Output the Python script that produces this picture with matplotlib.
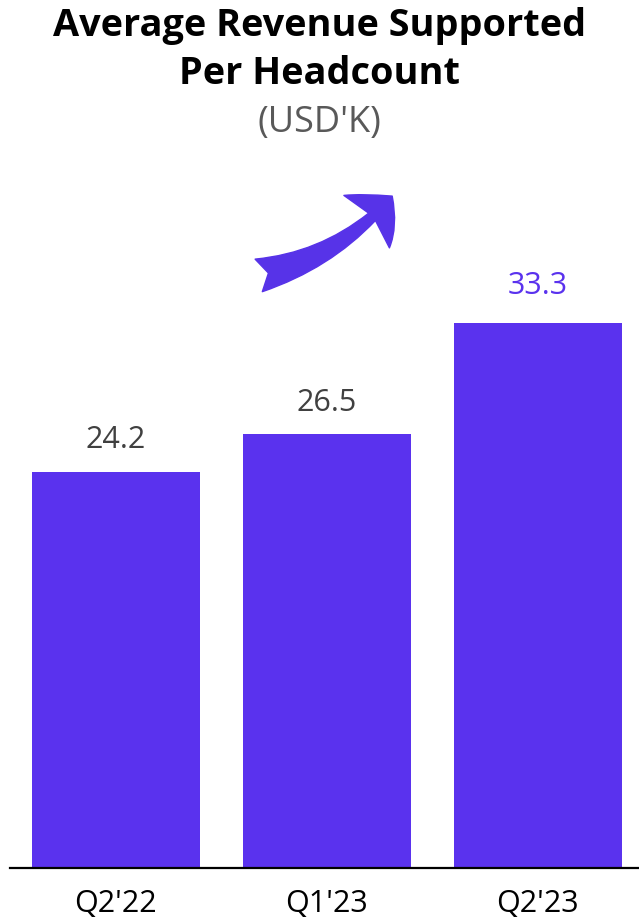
import matplotlib.pyplot as plt
from matplotlib.patches import FancyArrowPatch

quarters = ["Q2'22", "Q1'23", "Q2'23"]
revenue = [24.2, 26.5, 33.3]
label_colors = ['#404040', '#404040', '#5A32EE']

bar_color = '#5A32EE'

plt.rcParams['font.family'] = ['Open Sans', 'DejaVu Sans']

fig = plt.figure(figsize=(6.39, 9.22), dpi=100)
ax = fig.add_axes([10/639, 54/922, 629/639, (868-150)/922])

x = range(len(quarters))
ax.bar(x, revenue, width=0.8, color=bar_color)
ax.set_xlim(-0.502, 2.479)
ax.set_ylim(0, (868-150)/16.36)

for i, v in enumerate(revenue):
    ax.annotate(f'{v:.1f}', (i, v), xytext=(0, 12 if i < 2 else 16),
                textcoords='offset points', ha='center', va='bottom',
                fontsize=22, color=label_colors[i])

ax.set_xticks(list(x))
ax.set_xticklabels(quarters, fontsize=22, color='black')
ax.tick_params(axis='x', length=0, pad=15)
ax.set_yticks([])
for s in ['top', 'right', 'left']:
    ax.spines[s].set_visible(False)
ax.spines['bottom'].set_linewidth(1.6)
ax.spines['bottom'].set_color('black')

fig.text(0.5, 1 - 26/922, 'Average Revenue Supported', ha='center', va='center',
         fontsize=27.3, fontweight='bold')
fig.text(0.5, 1 - 74/922, 'Per Headcount', ha='center', va='center',
         fontsize=27.3, fontweight='bold')
fig.text(0.5, 1 - 123/922, "(USD'K)", ha='center', va='center',
         fontsize=26, color='#595959')

# curved trend arrow
arrow = FancyArrowPatch((256/639, 1 - 276/922), (394/639, 1 - 194/922),
                        transform=fig.transFigure,
                        connectionstyle='arc3,rad=0.17',
                        arrowstyle='fancy,head_length=13,head_width=25,tail_width=12',
                        color='#5733E8', mutation_scale=2)
fig.patches.append(arrow)

fig.savefig('out.png', dpi=100)
